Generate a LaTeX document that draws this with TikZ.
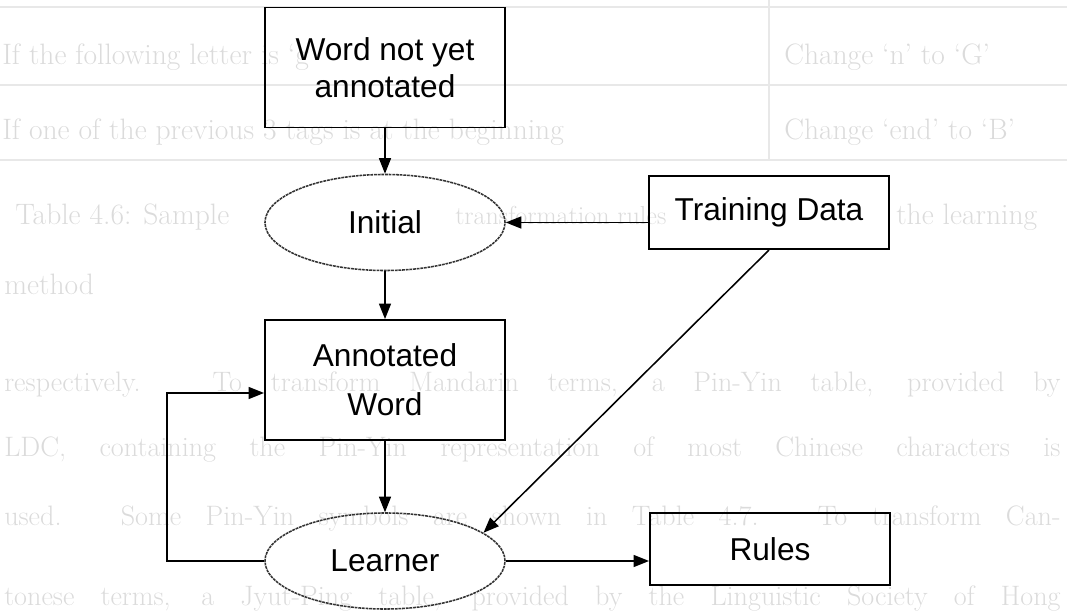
\documentclass[tikz,border=0pt]{standalone}
\usepackage{fontspec}
\newfontfamily\arialfont{Liberation Sans}
\usetikzlibrary{shapes.geometric, arrows.meta}
\tikzstyle{flowbox} = [draw,rectangle,line width=1.3pt,minimum width=6cm,inner sep=0pt,align=center,font=\arialfont\fontsize{22.5}{26.5}\selectfont]
\tikzstyle{flowoval} = [draw=black!80,ellipse,line width=1.1pt,dash pattern=on 2pt off 0.6pt,minimum width=6cm,minimum height=2.4cm,inner sep=0pt,font=\arialfont\fontsize{22.5}{27}\selectfont]
\tikzstyle{flowarrow} = [line width=1.1pt,-{Triangle[length=11pt,width=8.5pt]}]
\tikzstyle{pagetext} = [text=black!14,anchor=base west,inner sep=0pt,font=\fontsize{21}{25}\selectfont]
\tikzstyle{pagerule} = [black!9,line width=0.8pt]

\begin{document}
\begin{tikzpicture}[x=0.025cm,y=-0.025cm]
			\useasboundingbox (0,0) rectangle (1067,615);
			
			%% page behind the figure
			\draw[pagerule] (0,7) -- (1067,7); \draw[pagerule] (0,85) -- (1067,85); \draw[pagerule] (0,160) -- (1067,160);
			\draw[pagerule] (769,0) -- (769,160);
			\node[pagetext] (r1a) at (2,65) {If the following letter is `g'}; \node[pagetext] (r1b) at (784,65) {Change `n' to `G'};
			\node[pagetext] (r2a) at (2,140) {If one of the previous 3 tags is at the beginning}; \node[pagetext] (r2b) at (784,140) {Change `end' to `B'};
			\node[pagetext] (cap1) at (15,225) {Table 4.6: Sample}; \node[pagetext,font=\fontsize{18.5}{22}\selectfont] (cap2) at (455,225) {transformation rules};
			\node[pagetext] (cap3) at (896,225) {the learning};
			\node[pagetext] (cap4) at (4,295) {method};
			\tikzset{pagetext/.append style={font=\fontsize{20}{24}\selectfont}}
			\node[pagetext] (par1) at (4,392) {\makebox[26.4cm][s]{respectively. To transform Mandarin terms, a Pin-Yin table, provided by}};
			\node[pagetext] (par2) at (4,457) {\makebox[26.4cm][s]{LDC, containing the Pin-Yin representation of most Chinese characters is}};
			\node[pagetext] (par3) at (4,526) {\makebox[26.4cm][s]{used. Some Pin-Yin symbols are shown in Table 4.7. To transform Can-}};
			\node[pagetext] (par4) at (4,606) {\makebox[26.4cm][s]{tonese terms, a Jyut-Ping table, provided by the Linguistic Society of Hong}};
			
			%% nodes
			\node[flowbox,minimum height=3cm] (word) at (385,67.5) {Word not yet\\annotated};
			\node[flowoval] (init) at (385,222.5) {Initial}; \node[flowbox,minimum height=1.83cm] (train) at (769,212.5) {Training Data};
			\node[flowbox,minimum height=3cm,font=\arialfont\fontsize{22.5}{35}\selectfont] (annot) at (385,380) {Annotated\\Word};
			\node[flowoval] (learn) at (385,561) {Learner}; \node[flowbox,minimum height=1.8cm] (rules) at (770,549) {Rules};
			\coordinate (loop) at (167,393);
			
			%% edges
			\draw[flowarrow] (word) -- (init);
			\draw[flowarrow] (train.west |- init) -- (init);
			\draw[flowarrow] (init) -- (annot);
			\draw[flowarrow] (annot) -- (learn);
			\draw[flowarrow] (train.south) -- (learn.16);
			\draw[flowarrow] (learn) -- (rules.west |- learn);
			\draw[flowarrow] (learn.west) -| (loop) -- (annot.west |- loop);
		\end{tikzpicture}
\end{document}
